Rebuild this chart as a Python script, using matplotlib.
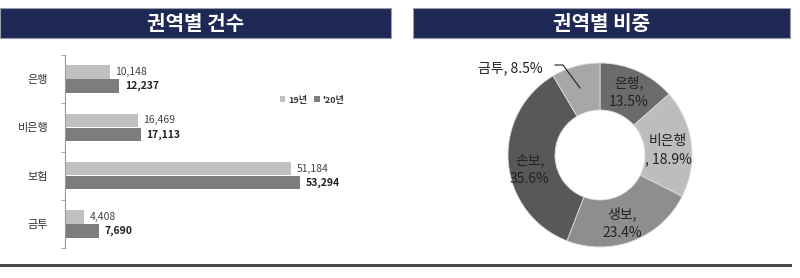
import numpy as np
import matplotlib.pyplot as plt
from matplotlib.patches import Rectangle
from matplotlib.lines import Line2D

plt.rcParams['font.family'] = ['Noto Sans CJK KR', 'DejaVu Sans']

# data
categories = ["은행", "비은행", "보험", "금투"]
y19 = [10148, 16469, 51184, 4408]
y20 = [12237, 17113, 53294, 7690]
series_names = ["19년", "'20년"]

pie_labels = ["은행", "비은행", "생보", "손보", "금투"]
pie_share = [13.5, 18.9, 23.4, 35.6, 8.5]

W, H = 800, 278
fig = plt.figure(figsize=(8, 2.78), dpi=100)

def fx(px):
    return px / W

def fy(py):
    return 1 - py / H

# title banners
navy = "#1e2854"
for x0, x1, title in [(0, 391, "권역별 건수"), (413, 790, "권역별 비중")]:
    fig.patches.append(Rectangle((fx(x0), fy(38)), fx(x1 - x0), 30 / H,
                                 transform=fig.transFigure, facecolor=navy,
                                 edgecolor="#9a9aa8", linewidth=0.8))
    fig.text(fx((x0 + x1) / 2), fy(23.5), title, color="white", fontsize=14.5,
             fontweight="bold", ha="center", va="center")

# bottom rule
fig.add_artist(Line2D([0, fx(790)], [fy(265), fy(265)], color="#4a4a4a",
                      linewidth=2.2, transform=fig.transFigure))

# ---- bar chart ----
ax = fig.add_axes([fx(65), fy(248), fx(385 - 65), (248 - 55) / H])
pos = np.arange(len(categories))
bh = 0.28
c19, c20 = "#c0c0c0", "#7d7d7d"
ax.barh(pos - 0.145, y19, height=bh, color=c19, label=series_names[0])
ax.barh(pos + 0.145, y20, height=bh, color=c20, label=series_names[1])
for i in range(len(categories)):
    ax.text(y19[i] + 1300, pos[i] - 0.145, f"{y19[i]:,}", va="center",
            fontsize=7.5, color="#444444")
    ax.text(y20[i] + 1300, pos[i] + 0.145, f"{y20[i]:,}", va="center",
            fontsize=7.5, color="#222222", fontweight="bold")
ax.set_xlim(0, 72500)
ax.set_ylim(len(categories) - 0.5, -0.5)
ax.set_yticks(pos)
ax.set_yticklabels(categories, fontsize=8, color="#333333")
ax.set_yticks(np.arange(-0.5, len(categories)), minor=True)
ax.tick_params(axis="y", which="major", length=0, pad=12)
ax.tick_params(axis="y", which="minor", length=3, color="#999999")
ax.xaxis.set_visible(False)
for s in ["top", "right", "bottom"]:
    ax.spines[s].set_visible(False)
ax.spines["left"].set_color("#999999")
ax.spines["left"].set_linewidth(0.8)
leg = ax.legend(loc="center", bbox_to_anchor=(fx(312), fy(100)),
                bbox_transform=fig.transFigure, ncol=2, frameon=False,
                fontsize=6.5, handlelength=0.6, handleheight=0.6,
                handletextpad=0.3, columnspacing=0.8)
for t in leg.get_texts():
    t.set_fontweight("bold")
    t.set_color("#333333")

# ---- donut ----
ax2 = fig.add_axes([fx(500), fy(255), fx(200), 200 / H])
cols = ["#6b6b6b", "#bdbdbd", "#8e8e8e", "#585858", "#a7a7a7"]
ax2.pie(pie_share, colors=cols, startangle=90, counterclock=False,
        radius=0.92, wedgeprops=dict(width=0.47, edgecolor="#dddddd",
                                     linewidth=0.6))
ax2.set_xlim(-1, 1)
ax2.set_ylim(-1, 1)
ax2.set_aspect("equal")
ax2.axis("off")

def dxy(px, py):
    return (px - 600) / 100, (155 - py) / 100

lab_pos = [(629, 92), (668, 150), (622, 223), (530, 170)]
for i, (px, py) in enumerate(lab_pos):
    if i == 1:
        txt = f"{pie_labels[i]}\n, {pie_share[i]}%"
    else:
        txt = f"{pie_labels[i]},\n{pie_share[i]}%"
    x, y = dxy(px, py)
    ax2.text(x, y, txt, ha="center", va="center", fontsize=10,
             color="#222222", linespacing=1.45)
x, y = dxy(510, 68)
ax2.text(x, y, f"{pie_labels[4]}, {pie_share[4]}%", ha="center", va="center",
         fontsize=10, color="#222222")
lx = [dxy(555, 65)[0], dxy(563, 65)[0], dxy(580, 88)[0]]
ly = [dxy(555, 65)[1], dxy(563, 65)[1], dxy(580, 88)[1]]
ax2.add_line(Line2D(lx, ly, color="#222222", linewidth=0.8, clip_on=False))

fig.savefig("out.png", dpi=100)
